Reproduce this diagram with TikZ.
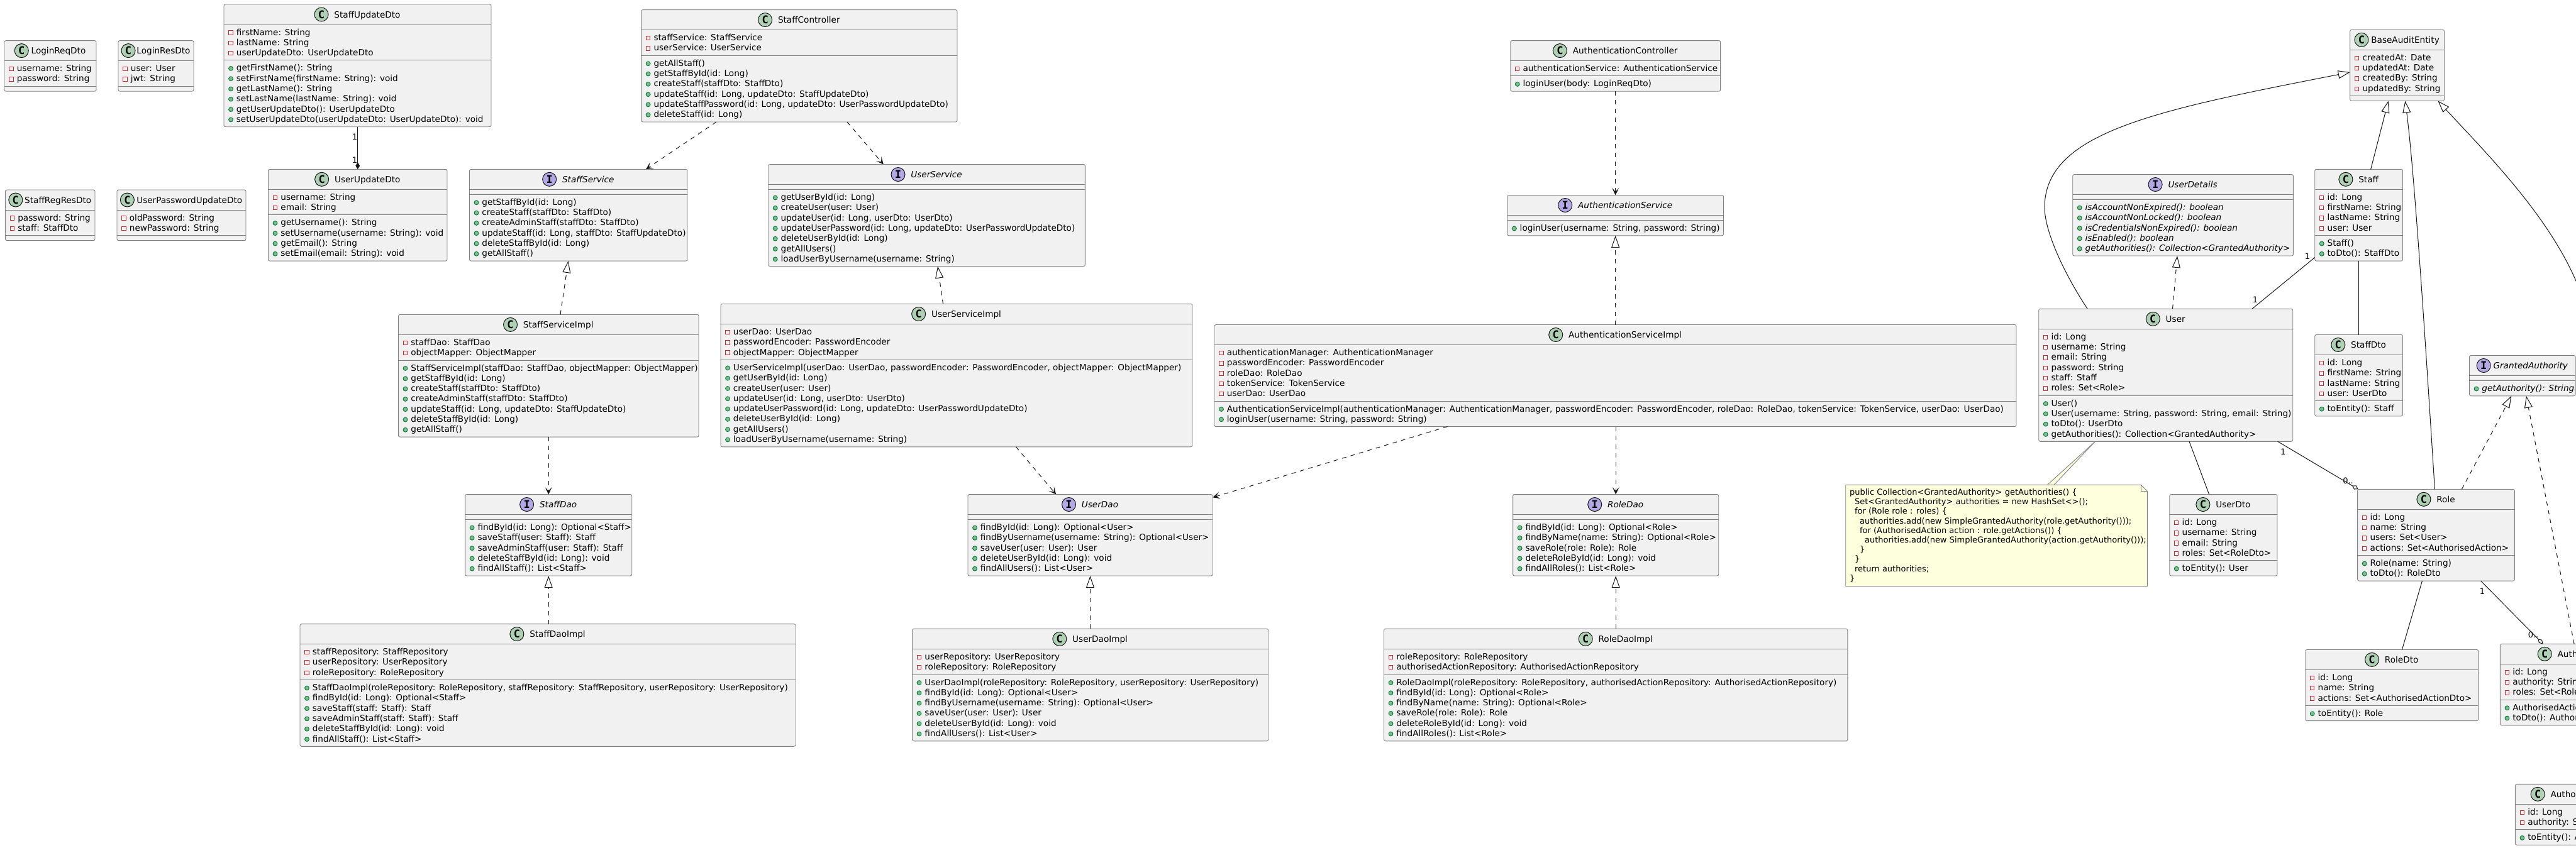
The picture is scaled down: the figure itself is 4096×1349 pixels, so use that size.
\documentclass[tikz,border=0pt]{standalone}
\usepackage{fontspec}
\setmainfont{DejaVu Sans}
\newfontfamily\iconfont{DejaVu Sans Mono}
\usetikzlibrary{calc, positioning, arrows.meta}
\definecolor{inkline}{HTML}{181818}
\definecolor{boxline}{HTML}{808080}
\definecolor{boxfill}{HTML}{F1F1F1}
\definecolor{classicon}{HTML}{ADD1B2}
\definecolor{ifaceicon}{HTML}{B4A7E5}
\definecolor{privline}{HTML}{C82930}
\definecolor{publine}{HTML}{038048}
\definecolor{pubfill}{HTML}{84BE84}
\definecolor{notefill}{HTML}{FEFFDD}
\tikzset{
    classbox/.style={rectangle, draw=boxline, line width=0.45pt, fill=boxfill, rounded corners=1.25pt, outer sep=0pt, inner sep=0pt, anchor=north west},
    classrule/.style={draw=boxline, line width=0.45pt},
    titleC/.style={font=\fontsize{6.8}{8}\selectfont, inner sep=0pt, anchor=base, text=black},
    titleI/.style={titleC, font=\fontsize{6.8}{8}\selectfont\itshape},
    iconC/.style={circle, draw=inkline, line width=0.5pt, fill=classicon, minimum size=11pt, inner sep=0pt, font=\iconfont\bfseries\fontsize{8.5}{8.5}\selectfont},
    iconI/.style={iconC, fill=ifaceicon},
    memberrow/.style={font=\fontsize{6.8}{8}\selectfont, inner sep=0pt, anchor=base west, text=black},
    privmark/.style={rectangle, draw=privline, line width=0.5pt, minimum size=3.2pt, inner sep=0pt},
    pubmark/.style={circle, draw=publine, fill=pubfill, line width=0.5pt, minimum size=3.4pt, inner sep=0pt},
    link/.style={draw=inkline, line width=0.5pt},
    dep/.style={link, dash pattern=on 3.5pt off 3.5pt, -{Stealth[length=5.8pt, width=5.5pt, inset=3pt]}},
    impl/.style={link, dash pattern=on 3.5pt off 3.5pt, -{Triangle[length=9.5pt, width=6.5pt, fill=white]}},
    inherit/.style={link, -{Triangle[length=9.5pt, width=6.5pt, fill=white]}},
    comp/.style={link, -{Diamond[length=5.6pt, width=3.4pt, fill=inkline]}},
    aggr/.style={link, -{Diamond[length=5.6pt, width=3.6pt, fill=white]}},
    multlabel/.style={font=\fontsize{6.5}{7}\selectfont, inner sep=0pt, text=black},
    notebox/.style={rectangle, draw=none, fill=none, outer sep=0pt, inner sep=0pt, anchor=north west},
    notepath/.style={draw=boxline, line width=0.45pt, fill=notefill},
    notetext/.style={font=\fontsize{6.5}{7.6}\selectfont, align=left, inner sep=0pt, anchor=north west, text=black}
}
% rows of one compartment: class, tag, offset, marker, list
\newcommand{\memberrows}[5]{%
    \if\relax\detokenize{#5}\relax\else
    \foreach \rowtxt [count=\rowno] in {#5} {
        \node[memberrow] (#1-#2\rowno) at ($(#1.north west)+(19.5,#3+0.7+16.3*\rowno)$) {\rowtxt};
        \node[#4] (#1-#2mark\rowno) at ($(#1-#2\rowno.base west)+(-8.5,-4)$) {};
    }\fi}
\newcommand{\countrows}[2]{%
    \gdef#2{0}\if\relax\detokenize{#1}\relax\else
    \foreach \rowtxt [count=\rowno] in {#1} {\xdef#2{\rowno}}\fi}
% [gap]{x left}{y top}{x right}{C or I}{title}{fields}{methods}
\newcommand{\umlclass}[8][9]{%
    \countrows{#7}{\nfields}\countrows{#8}{\nmethods}
    \pgfmathsetmacro{\boxw}{(#4-#2)*0.5}
    \pgfmathsetmacro{\sepb}{32+16.3*\nfields+8}
    \pgfmathsetmacro{\boxh}{(\sepb+16.3*\nmethods+8)*0.5}
    \node[classbox, minimum width=\boxw pt, minimum height=\boxh pt] (#6) at (#2,#3) {};
    \draw[classrule] ($(#6.north west)+(0,32)$) -- ($(#6.north east)+(0,32)$);
    \draw[classrule] ($(#6.north west)+(0,\sepb)$) -- ($(#6.north east)+(0,\sepb)$);
    \node[title#5] (#6-title) at ($(#6.north)+(#1/2+11,21)$) {#6};
    \node[icon#5] (#6-icon) at ($(#6-title.base west)+(-#1-11,-5)$) {#5};
    \memberrows{#6}{f}{32}{privmark}{#7}
    \memberrows{#6}{m}{\sepb}{pubmark}{#8}
}
\begin{document}
\begin{tikzpicture}[x=0.5pt, y=-0.5pt]
    \useasboundingbox (0,0) rectangle (4096,1349);

    % Loose dtos
    \umlclass[4]{7}{64.6}{153}{C}{LoginReqDto}{username: String, password: String}{}
    \umlclass[2]{188}{64.6}{308}{C}{LoginResDto}{user: User, jwt: String}{}
    \umlclass[3]{8.4}{302}{151}{C}{StaffRegResDto}{password: String, staff: StaffDto}{}
    \umlclass[3.5]{186}{302}{391}{C}{UserPasswordUpdateDto}{oldPassword: String, newPassword: String}{}
    \umlclass{356}{7}{781}{C}{StaffUpdateDto}{firstName: String, lastName: String, userUpdateDto: UserUpdateDto}
        {getFirstName(): String, setFirstName(firstName: String): void, getLastName(): String, setLastName(lastName: String): void, getUserUpdateDto(): UserUpdateDto, setUserUpdateDto(userUpdateDto: UserUpdateDto): void}
    \umlclass{426.5}{269.3}{711}{C}{UserUpdateDto}{username: String, email: String}
        {getUsername(): String, setUsername(username: String): void, getEmail(): String, setEmail(email: String): void}

    % Staff column
    \umlclass{1019.6}{15.6}{1522}{C}{StaffController}{staffService: StaffService, userService: UserService}
        {getAllStaff(), getStaffById(id: Long), createStaff(staffDto: StaffDto), {updateStaff(id: Long, updateDto: StaffUpdateDto)}, {updateStaffPassword(id: Long, updateDto: UserPasswordUpdateDto)}, deleteStaff(id: Long)}
    \umlclass{746.5}{269.3}{1093}{I}{StaffService}{}
        {getStaffById(id: Long), createStaff(staffDto: StaffDto), createAdminStaff(staffDto: StaffDto), {updateStaff(id: Long, staffDto: StaffUpdateDto)}, deleteStaffById(id: Long), getAllStaff()}
    \umlclass{633.5}{500.4}{1111}{C}{StaffServiceImpl}{staffDao: StaffDao, objectMapper: ObjectMapper}
        {{StaffServiceImpl(staffDao: StaffDao, objectMapper: ObjectMapper)}, getStaffById(id: Long), createStaff(staffDto: StaffDto), createAdminStaff(staffDto: StaffDto), {updateStaff(id: Long, updateDto: StaffUpdateDto)}, deleteStaffById(id: Long), getAllStaff()}
    \umlclass{739.6}{786.5}{1004.7}{I}{StaffDao}{}
        {findById(id: Long): Optional<Staff>, saveStaff(user: Staff): Staff, saveAdminStaff(user: Staff): Staff, deleteStaffById(id: Long): void, findAllStaff(): List<Staff>}
    \umlclass{477}{992.6}{1265}{C}{StaffDaoImpl}{staffRepository: StaffRepository, userRepository: UserRepository, roleRepository: RoleRepository}
        {{StaffDaoImpl(roleRepository: RoleRepository, staffRepository: StaffRepository, userRepository: UserRepository)}, findById(id: Long): Optional<Staff>, saveStaff(staff: Staff): Staff, saveAdminStaff(staff: Staff): Staff, deleteStaffById(id: Long): void, findAllStaff(): List<Staff>}

    % User column
    \umlclass{1221.7}{261.5}{1725.4}{I}{UserService}{}
        {getUserById(id: Long), createUser(user: User), {updateUser(id: Long, userDto: UserDto)}, {updateUserPassword(id: Long, updateDto: UserPasswordUpdateDto)}, deleteUserById(id: Long), getAllUsers(), loadUserByUsername(username: String)}
    \umlclass{1146}{483.5}{1896}{C}{UserServiceImpl}{userDao: UserDao, passwordEncoder: PasswordEncoder, objectMapper: ObjectMapper}
        {{UserServiceImpl(userDao: UserDao, passwordEncoder: PasswordEncoder, objectMapper: ObjectMapper)}, getUserById(id: Long), createUser(user: User), {updateUser(id: Long, userDto: UserDto)}, {updateUserPassword(id: Long, updateDto: UserPasswordUpdateDto)}, deleteUserById(id: Long), getAllUsers(), loadUserByUsername(username: String)}
    \umlclass{1539}{786.5}{1928}{I}{UserDao}{}
        {findById(id: Long): Optional<User>, findByUsername(username: String): Optional<User>, saveUser(user: User): User, deleteUserById(id: Long): void, findAllUsers(): List<User>}
    \umlclass{1450.5}{1000.4}{2016.7}{C}{UserDaoImpl}{userRepository: UserRepository, roleRepository: RoleRepository}
        {{UserDaoImpl(roleRepository: RoleRepository, userRepository: UserRepository)}, findById(id: Long): Optional<User>, findByUsername(username: String): Optional<User>, saveUser(user: User): User, deleteUserById(id: Long): void, findAllUsers(): List<User>}

    % Authentication column
    \umlclass{2401.7}{64.6}{2735.6}{C}{AuthenticationController}{authenticationService: AuthenticationService}{loginUser(body: LoginReqDto)}
    \umlclass{2396.8}{310.5}{2740.5}{I}{AuthenticationService}{}{{loginUser(username: String, password: String)}}
    \umlclass{1931}{516.5}{3206}{C}{AuthenticationServiceImpl}{authenticationManager: AuthenticationManager, passwordEncoder: PasswordEncoder, roleDao: RoleDao, tokenService: TokenService, userDao: UserDao}
        {{AuthenticationServiceImpl(authenticationManager: AuthenticationManager, passwordEncoder: PasswordEncoder, roleDao: RoleDao, tokenService: TokenService, userDao: UserDao)}, {loginUser(username: String, password: String)}}
    \umlclass{2405.6}{786.5}{2732.7}{I}{RoleDao}{}
        {findById(id: Long): Optional<Role>, findByName(name: String): Optional<Role>, saveRole(role: Role): Role, deleteRoleById(id: Long): void, findAllRoles(): List<Role>}
    \umlclass{2200.5}{1000.4}{2937.8}{C}{RoleDaoImpl}{roleRepository: RoleRepository, authorisedActionRepository: AuthorisedActionRepository}
        {{RoleDaoImpl(roleRepository: RoleRepository, authorisedActionRepository: AuthorisedActionRepository)}, findById(id: Long): Optional<Role>, findByName(name: String): Optional<Role>, saveRole(role: Role): Role, deleteRoleById(id: Long): void, findAllRoles(): List<Role>}

    % Entities
    \umlclass[4]{3736.6}{47.3}{3886.5}{C}{BaseAuditEntity}{createdAt: Date, updatedAt: Date, createdBy: String, updatedBy: String}{}
    \umlclass{3295.7}{277.5}{3646.4}{I}{UserDetails}{}
        {{\itshape isAccountNonExpired(): boolean}, {\itshape isAccountNonLocked(): boolean}, {\itshape isCredentialsNonExpired(): boolean}, {\itshape isEnabled(): boolean}, {\itshape getAuthorities(): Collection<GrantedAuthority>}}
    \umlclass{3680.7}{269.3}{3820.5}{C}{Staff}{id: Long, firstName: String, lastName: String, user: User}{Staff(), toDto(): StaffDto}
    \umlclass{3241.7}{491.3}{3645.7}{C}{User}{id: Long, username: String, email: String, password: String, staff: Staff, roles: Set<Role>}
        {User(), {User(username: String, password: String, email: String)}, toDto(): UserDto, getAuthorities(): Collection<GrantedAuthority>}
    \umlclass{3680.7}{532.5}{3820.5}{C}{StaffDto}{id: Long, firstName: String, lastName: String, user: UserDto}{toEntity(): Staff}
    \umlclass[4]{3926.5}{565.5}{4095}{I}{GrantedAuthority}{}{{\itshape getAuthority(): String}}
    \umlclass{3449.7}{786.5}{3621}{C}{UserDto}{id: Long, username: String, email: String, roles: Set<RoleDto>}{toEntity(): User}
    \umlclass{3748.6}{778.3}{3998.3}{C}{Role}{id: Long, name: String, users: Set<User>, actions: Set<AuthorisedAction>}{Role(name: String), toDto(): RoleDto}
    \umlclass{3665.7}{1033.4}{3940.6}{C}{RoleDto}{id: Long, name: String, actions: Set<AuthorisedActionDto>}{toEntity(): Role}
    \umlclass{3975.4}{1024.3}{4243}{C}{AuthorisedAction}{id: Long, authority: String, roles: Set<Role>}{AuthorisedAction(authority: String), toDto(): AuthorisedActionDto}
    \umlclass{3999.4}{1247.3}{4221}{C}{AuthorisedActionDto}{id: Long, authority: String}{toEntity(): AuthorisedAction}

    % Note
    \node[notebox, minimum width=239.8pt, minimum height=80.6pt] (Note) at (2934.7,771.3) {};
    \fill[notefill] ($(User.south west)+(89.7,0)$) -- ($(Note.north west)+(320.8,0)$) -- ($(Note.north west)+(331.3,0)$) -- cycle;
    \draw[link, draw=boxline, line width=0.45pt] ($(User.south west)+(89.7,0)$) -- ($(Note.north west)+(320.8,0)$);
    \draw[link, draw=boxline, line width=0.45pt] ($(User.south west)+(89.7,0)$) -- ($(Note.north west)+(331.3,0)$);
    \draw[notepath] (Note.north west) -- ($(Note.north east)+(-10,0)$) -- ($(Note.north east)+(0,10)$) -- (Note.south east) -- (Note.south west) -- cycle;
    \draw[notepath, fill=none] ($(Note.north east)+(-10,0)$) -- ($(Note.north east)+(-10,10)$) -- ($(Note.north east)+(0,10)$);
    \node[notetext] (Note-text) at ($(Note.north west)+(6,6)$) {public Collection<GrantedAuthority> getAuthorities() \{\\
        \hspace*{4pt}Set<GrantedAuthority> authorities = new HashSet<>();\\
        \hspace*{4pt}for (Role role : roles) \{\\
        \hspace*{8pt}authorities.add(new SimpleGrantedAuthority(role.getAuthority()));\\
        \hspace*{8pt}for (AuthorisedAction action : role.getActions()) \{\\
        \hspace*{12pt}authorities.add(new SimpleGrantedAuthority(action.getAuthority()));\\
        \hspace*{8pt}\}\\
        \hspace*{4pt}\}\\
        \hspace*{4pt}return authorities;\\
        \}};

    % Controllers and services
    \draw[dep] ($(StaffController.south west)+(119.4,0)$) -- ($(StaffService.north west)+(280.5,0)$);
    \draw[dep] ($(StaffController.south west)+(327.4,0)$) -- ($(UserService.north west)+(183.1,0)$);
    \draw[impl] ($(StaffServiceImpl.north west)+(257.5,0)$) -- ($(StaffService.south west)+(157.1,0)$);
    \draw[impl] ($(UserServiceImpl.north west)+(353.5,0)$) -- ($(UserService.south west)+(269.3,0)$);
    \draw[dep] (AuthenticationController.south) -- (AuthenticationService.north);
    \draw[impl] (AuthenticationServiceImpl.north -| AuthenticationService.south) -- (AuthenticationService.south);

    % Services and daos
    \draw[dep] (StaffServiceImpl.south -| StaffDao.north) -- (StaffDao.north);
    \draw[dep] ($(UserServiceImpl.south west)+(469.4,0)$) -- ($(UserDao.north west)+(140.2,0)$);
    \draw[dep] ($(AuthenticationServiceImpl.south west)+(370.5,0)$) -- ($(UserDao.north east)+(0.3,4.8)$);
    \draw[dep] (AuthenticationServiceImpl.south -| RoleDao.north) -- (RoleDao.north);
    \draw[impl] (StaffDaoImpl.north -| StaffDao.south) -- (StaffDao.south);
    \draw[impl] (UserDaoImpl.north -| UserDao.south) -- (UserDao.south);
    \draw[impl] (RoleDaoImpl.north -| RoleDao.south) -- (RoleDao.south);

    % Entities and dtos
    \draw[comp] (StaffUpdateDto.south -| UserUpdateDto.north) -- (UserUpdateDto.north);
    \node[multlabel] (lblA) at (564,218) {1};
    \node[multlabel] (lblB) at (564,255) {1};
    \draw[inherit] ($(User.north west)+(77.5,0)$) .. controls (3285,440) and (3251,370) .. (3251,330) .. controls (3251,210) and (3430,175) .. ($(BaseAuditEntity.north west)+(0,67.7)$);
    \draw[inherit] ($(Staff.north west)+(88.9,0)$) -- ($(BaseAuditEntity.south west)+(61,0)$);
    \draw[inherit] ($(Role.north west)+(122.8,0)$) .. controls (3860,600) and (3840,280) .. ($(BaseAuditEntity.south west)+(87.7,0)$);
    \draw[inherit] ($(AuthorisedAction.north west)+(204.6,0)$) .. controls (4180,700) and (4150,560) .. (4096,447) .. controls (4050,340) and (3950,240) .. ($(BaseAuditEntity.south west)+(139.8,0)$);
    \draw[impl] ($(User.north west)+(212.8,0)$) -- ($(UserDetails.south west)+(166.3,0)$);
    \draw[link] ($(Staff.south west)+(0,-5.6)$) -- ($(User.north west)+(339.3,0)$);
    \node[multlabel] (lblC) at (3669,408) {1};
    \node[multlabel] (lblD) at (3586,477) {1};
    \draw[link] (Staff.south) -- (StaffDto.north);
    \draw[link] ($(User.south west)+(239.3,0)$) -- ($(UserDto.north west)+(62.9,0)$);
    \node[multlabel] (lblF) at (3733.5,765) {0..};
    \draw[aggr] ($(User.south west)+(380,0)$) -- ($(Role.north west)+(1.1,0)$);
    \node[multlabel] (lblE) at (3630.3,719) {1};
    \draw[link] ($(Role.south west)+(102.8,0)$) -- ($(RoleDto.north west)+(153.7,0)$);
    \node[multlabel] (lblH) at (4028,1010) {0..};
    \draw[aggr] ($(Role.south west)+(196,0)$) -- ($(AuthorisedAction.north west)+(68,0)$);
    \node[multlabel] (lblG) at (3946.9,940.7) {1};
    \draw[impl] ($(Role.north west)+(165.7,0)$) -- ($(GrantedAuthority.south west)+(66.8,0)$);
    \draw[impl] ($(AuthorisedAction.north west)+(117.6,0)$) -- ($(GrantedAuthority.south west)+(90.3,0)$);
\end{tikzpicture}
\end{document}
